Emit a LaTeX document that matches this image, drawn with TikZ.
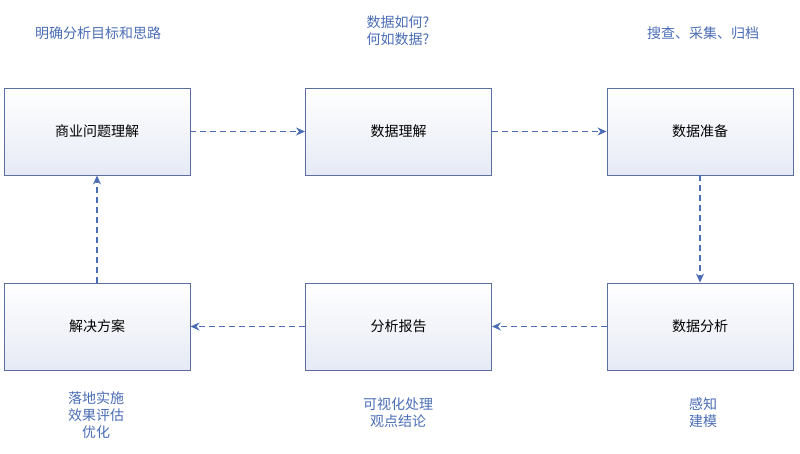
\documentclass[tikz,border=0pt]{standalone}
\usepackage{fontspec}
\setmainfont{Noto Sans CJK SC}
\usetikzlibrary{arrows.meta}
\definecolor{bd}{HTML}{5B6F9E}
\definecolor{lb}{HTML}{4A6DB5}
\definecolor{fl}{HTML}{E6EAF5}
\begin{document}
\begin{tikzpicture}[x=1pt,y=-1pt,
 box/.style={draw=bd,line width=0.9pt,top color=white,bottom color=fl,minimum width=186pt,minimum height=87pt,font=\fontsize{14}{16}\selectfont,inner sep=0pt},
 lbl/.style={text=lb,font=\fontsize{14}{17}\selectfont,align=center},
 arr/.style={draw=lb,line width=1.3pt,dash pattern=on 6pt off 4pt,-{Stealth[length=9pt,width=8pt]}}]
\useasboundingbox (0,0) rectangle (800,454);
\node[box] (a) at (97,131.5) {商业问题理解};
\node[box] (b) at (398.5,131.5) {数据理解};
\node[box] (c) at (700,131.5) {数据准备};
\node[box] (f) at (97,326.5) {解决方案};
\node[box] (e) at (398.5,326.5) {分析报告};
\node[box] (d) at (700,326.5) {数据分析};
\draw[arr] (a) -- (b);
\draw[arr] (b) -- (c);
\draw[arr] (c) -- (d);
\draw[arr] (d) -- (e);
\draw[arr] (e) -- (f);
\draw[arr] (f) -- (a);
\node[lbl] (t1) at (98,33) {明确分析目标和思路};
\node[lbl] (t2) at (398,31) {数据如何?\\何如数据?};
\node[lbl] (t3) at (703,33) {搜查、采集、归档};
\node[lbl] (t4) at (96,415) {落地实施\\效果评估\\优化};
\node[lbl] (t5) at (398,413) {可视化处理\\观点结论};
\node[lbl] (t6) at (703,413) {感知\\建模};
\end{tikzpicture}
\end{document}
